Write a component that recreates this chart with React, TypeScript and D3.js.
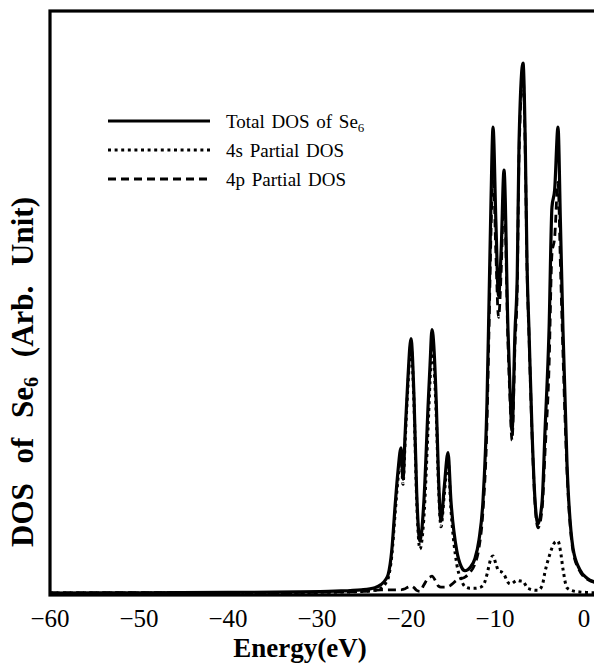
import React from 'react'
import * as d3 from 'd3'

// energies (eV) shared by the three curves
const energy = [
  -60, -50, -40, -32, -28, -25, -23.5, -22.8, -22.3, -22.0, -21.6, -21.2, -20.9, -20.56, -20.34,
  -20.1, -19.8, -19.44, -19.1, -18.8, -18.43, -18.0, -17.5, -17.3, -17.08, -16.6, -16.35, -16.07,
  -15.7, -15.28, -14.95, -14.3, -13.8, -13.37, -12.8, -12.25, -11.8, -11.35, -10.9, -10.67, -10.45,
  -10.22, -9.9, -9.6, -9.3, -8.99, -8.54, -8.3, -8.09, -7.75, -7.5, -7.3, -6.85, -6.6, -6.4, -6.18,
  -5.84, -5.5, -5.17, -4.7, -4.38, -3.93, -3.6, -3.3, -2.92, -2.65, -2.36, -1.91, -1.24, -0.5, 0.34, 1.5,
]

const totalDos = [
  0, 0.05, 0.1, 0.2, 0.35, 0.6, 1.0, 1.6, 2.5, 3.5, 8, 17, 23, 27.4, 21.5,
  30, 40, 48, 37, 19, 9.8, 17, 36, 43, 49.7, 36, 22, 13.6,
  20, 26.5, 17.4, 8, 5, 4.2, 4.8, 6.5, 10, 17.4, 36, 55, 74,
  87.9, 70, 56, 65, 79.8, 49.5, 38, 30.6, 49.5, 60, 85, 100, 85, 62, 49.5,
  30.6, 17.4, 13, 17.4, 30.6, 49.5, 72.8, 76, 87.9, 70, 49.5, 24.4, 8.5, 4.5, 2.8, 2,
]

const sDos = [
  0, 0, 0.05, 0.1, 0.15, 0.3, 0.5, 0.9, 1.8, 2.8, 7, 15.5, 21.5, 26, 20.5,
  28.5, 38.5, 46.5, 35.5, 17.5, 8.3, 14, 32, 40, 46.5, 33.5, 20.5, 12.5,
  18.5, 25, 15.8, 5.5, 2.5, 1.2, 0.9, 0.9, 1.0, 1.4, 3.5, 5.2, 6.6,
  7.0, 5.5, 4.2, 4.0, 3.5, 2.0, 1.7, 1.8, 2.2, 2.4, 2.3, 2.2, 1.6, 1.0, 0.8,
  0.6, 0.5, 0.5, 1.4, 4.0, 6.8, 8.5, 9.5, 9.8, 8.0, 4.5, 1.0, 0.4, 0.2, 0.1, 0.05,
]

const pDos = [
  0, 0.05, 0.05, 0.1, 0.2, 0.3, 0.5, 0.6, 0.6, 0.6, 0.6, 0.6, 0.6, 0.6, 0.7,
  0.8, 1.1, 1.3, 1.0, 0.5, 0.3, 1.5, 2.8, 3.0, 3.2, 2.0, 1.3, 1.1,
  1.1, 1.2, 1.5, 2.4, 2.7, 3.0, 3.9, 5.5, 8.5, 15.5, 32, 50, 68,
  80, 64, 52, 61, 76, 47, 36, 28.8, 47, 57.5, 82.5, 97.5, 83, 61, 48.5,
  30, 16.8, 12.3, 16, 26.5, 42.5, 64, 67, 77.5, 62, 45, 23, 8, 4.2, 2.6, 1.9,
]

const xTicks = [-60, -50, -40, -30, -20, -10, 0]

const legendItems = [
  { label: 'Total DOS of Se', sub: '6', dash: null, width: 3.2 },
  { label: '4s Partial DOS', sub: '', dash: '3,3.6', width: 3 },
  { label: '4p Partial DOS', sub: '', dash: '8,5', width: 3 },
]

const W = 594
const H = 666
const left = 50
const top = 11
const bottom = 595
const right = 597

export default function App() {
  const x = d3.scaleLinear().domain([-60, 1.5]).range([left, left + 8.9 * 61.5])
  const y = d3.scaleLinear().domain([0, 100]).range([593, 63])

  const mk = (vals: number[]) =>
    d3.line<number>()
      .x((_, i) => x(energy[i]))
      .y(d => y(d))
      .curve(d3.curveMonotoneX)(vals) || ''

  const font = "'Liberation Serif', 'Times New Roman', Times, serif"

  return (
    <svg width={W} height={H} style={{ position: 'absolute', left: 0, top: 0, background: '#fff' }}
      fontFamily={font}>
      <defs>
        <clipPath id="plot">
          <rect x={left} y={top} width={right - left} height={bottom - top} />
        </clipPath>
      </defs>
      <rect x={0} y={0} width={W} height={H} fill="#fff" />

      <g clipPath="url(#plot)" fill="none" strokeLinejoin="round">
        <path d={mk(sDos)} stroke="#000" strokeWidth={3} strokeDasharray="3,3.6" />
        <path d={mk(pDos)} stroke="#000" strokeWidth={2.8} strokeDasharray="8,5" />
        <path d={mk(totalDos)} stroke="#000" strokeWidth={3.2} />
      </g>

      <rect x={left} y={top} width={right - left} height={bottom - top}
        fill="none" stroke="#000" strokeWidth={3.2} />

      {xTicks.map(t => (
        <text key={t} x={x(t)} y={627} textAnchor="middle" fontSize={25}>
          {t < 0 ? `\u2212${-t}` : t}
        </text>
      ))}

      <text x={300} y={657} textAnchor="middle" fontSize={27} fontWeight="bold">Energy(eV)</text>

      <text transform="translate(33,372) rotate(-90)" textAnchor="middle" fontSize={31}
        fontWeight="bold" wordSpacing={12}>
        DOS of Se<tspan fontSize={20} dy={5}>6</tspan><tspan dy={-5}> (Arb. Unit)</tspan>
      </text>

      {legendItems.map((d, i) => {
        const ly = 121 + i * 29
        return (
          <g key={d.label}>
            <line x1={108} x2={210} y1={ly} y2={ly} stroke="#000" strokeWidth={d.width}
              strokeDasharray={d.dash || undefined} />
            <text x={226} y={ly + 7} fontSize={19} wordSpacing={2}>
              {d.label}
              {d.sub && <tspan fontSize={13} dy={4}>{d.sub}</tspan>}
            </text>
          </g>
        )
      })}
    </svg>
  )
}
